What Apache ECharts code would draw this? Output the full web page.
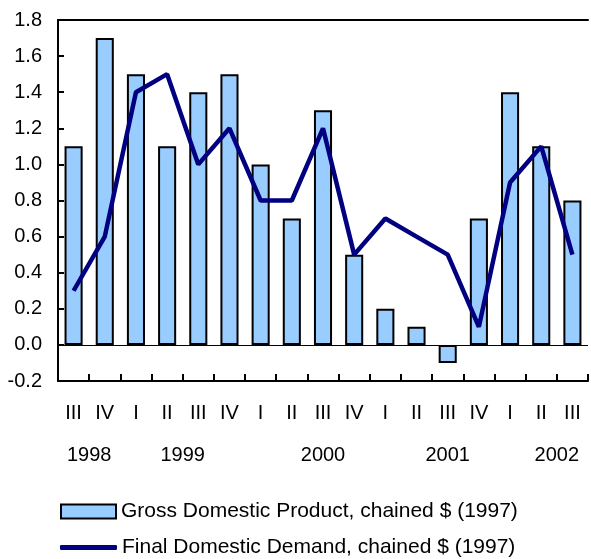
<!DOCTYPE html>
<html>
<head>
<meta charset="utf-8">
<script src="https://cdn.jsdelivr.net/npm/echarts@6/dist/echarts.min.js"></script>
<style>
  html, body { margin: 0; padding: 0; background: #fff; }
  #chart { width: 591px; height: 559px; }
</style>
</head>
<body>
<div id="chart"></div>
<script>
// quarters from 1998 III to 2002 III
const quarters = ['III', 'IV', 'I', 'II', 'III', 'IV', 'I', 'II', 'III', 'IV', 'I', 'II', 'III', 'IV', 'I', 'II', 'III']
const gdp = [1.1, 1.7, 1.5, 1.1, 1.4, 1.5, 1.0, 0.7, 1.3, 0.5, 0.2, 0.1, -0.1, 0.7, 1.4, 1.1, 0.8]
const demand = [0.3, 0.6, 1.4, 1.5, 1.0, 1.2, 0.8, 0.8, 1.2, 0.5, 0.7, 0.6, 0.5, 0.1, 0.9, 1.1, 0.5]
// year labels sit on half-quarter steps (35 slots from left edge to right edge)
const yearSlots = {2: '1998', 8: '1999', 17: '2000', 25: '2001', 32: '2002'}
const yTicks = {min: -0.2, max: 1.8, step: 0.2}
const gdpName = 'Gross Domestic Product, chained $ (1997)'
const demandName = 'Final Domestic Demand, chained $ (1997)'

const font = 'Liberation Sans, Arial, sans-serif'
const yearAxisData = []
for (let i = 0; i <= quarters.length * 2; i++) {
  yearAxisData.push(yearSlots[i] || '')
}

const chart = echarts.init(document.getElementById('chart'))
chart.setOption({
  animation: false,
  textStyle: {fontFamily: font, color: '#000'},
  grid: {left: 58, right: 0, top: 20, bottom: 178, containLabel: false},
  xAxis: [
    {
      type: 'category',
      data: quarters,
      position: 'bottom',
      axisLine: {onZero: false, lineStyle: {color: '#000', width: 2}},
      axisTick: {show: true, inside: true, length: 7, lineStyle: {color: '#000', width: 2}},
      axisLabel: {fontSize: 20, color: '#000', fontFamily: font, margin: 22, interval: 0}
    },
    {
      type: 'category',
      data: yearAxisData,
      boundaryGap: false,
      position: 'bottom',
      axisLine: {show: false},
      axisTick: {show: false},
      axisLabel: {fontSize: 20, color: '#000', fontFamily: font, margin: 64, interval: 0}
    },
    {
      type: 'category',
      data: quarters,
      position: 'top',
      axisLine: {show: true, onZero: false, lineStyle: {color: '#000', width: 2}},
      axisTick: {show: false},
      axisLabel: {show: false}
    }
  ],
  yAxis: {
    type: 'value',
    min: yTicks.min,
    max: yTicks.max,
    interval: yTicks.step,
    axisLine: {show: true, lineStyle: {color: '#000', width: 2}},
    axisTick: {show: true, inside: true, length: 6, lineStyle: {color: '#000', width: 2}},
    splitLine: {show: false},
    axisLabel: {
      fontSize: 20, color: '#000', fontFamily: font, margin: 16,
      formatter: v => v.toFixed(1)
    }
  },
  legend: [
    {
      left: 55,
      top: 496,
      itemWidth: 55,
      itemHeight: 14,
      itemGap: 5,
      textStyle: {fontSize: 21, color: '#000', fontFamily: font},
      data: [{name: gdpName, icon: 'rect'}]
    },
    {
      left: 55,
      top: 532,
      itemWidth: 57,
      itemHeight: 5,
      textStyle: {fontSize: 21, color: '#000', fontFamily: font},
      data: [{name: demandName, icon: 'roundRect', itemStyle: {color: '#000080', borderWidth: 0}}]
    }
  ],
  series: [
    {
      name: gdpName,
      type: 'bar',
      data: gdp,
      barWidth: '58%',
      itemStyle: {color: '#99ccff', borderColor: '#000', borderWidth: 2},
      markLine: {
        silent: true,
        symbol: 'none',
        label: {show: false},
        lineStyle: {color: '#000', width: 1, type: 'solid'},
        data: [{yAxis: 0}]
      }
    },
    {
      name: demandName,
      type: 'line',
      data: demand,
      symbol: 'none',
      lineStyle: {color: '#000080', width: 4.5},
      itemStyle: {color: '#000080'}
    }
  ]
})
</script>
</body>
</html>
